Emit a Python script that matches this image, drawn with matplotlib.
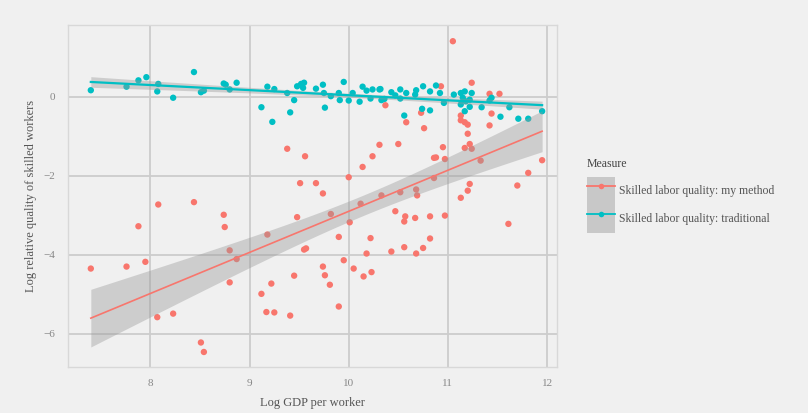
import numpy as np
import matplotlib
matplotlib.use("Agg")
import matplotlib.pyplot as plt
from matplotlib.lines import Line2D
from matplotlib.patches import Patch
from matplotlib.legend_handler import HandlerTuple

# ---- data ----
trad_x = [7.40, 7.76, 7.88, 7.96, 8.08, 8.07, 8.23, 8.44, 8.51, 8.54, 8.74,
          8.76, 8.80, 8.87, 9.12, 9.23, 9.18, 9.25, 9.38, 9.41, 9.45, 9.48,
          9.52, 9.55, 9.54, 9.67, 9.74, 9.75, 9.76, 9.82, 9.90, 9.91, 9.95,
          10.00, 10.04, 10.11, 10.14, 10.18, 10.22, 10.24, 10.31, 10.33,
          10.32, 10.36, 10.43, 10.47, 10.52, 10.52, 10.58, 10.56, 10.67,
          10.68, 10.75, 10.74, 10.82, 10.82, 10.88, 10.92, 10.96, 11.06,
          11.13, 11.15, 11.17, 11.18, 11.22, 11.24, 11.13, 11.17, 11.22,
          11.34, 11.44, 11.42, 11.53, 11.62, 11.71, 11.81, 11.95]
trad_y = [0.16, 0.25, 0.41, 0.49, 0.32, 0.13, -0.03, 0.62, 0.11, 0.15, 0.33,
          0.30, 0.18, 0.35, -0.27, -0.64, 0.25, 0.19, 0.09, -0.40, -0.09, 0.26,
          0.32, 0.35, 0.22, 0.20, 0.30, 0.09, -0.28, 0.01, 0.09, -0.09, 0.37,
          -0.10, 0.09, -0.13, 0.25, 0.15, -0.05, 0.18, 0.18, -0.09,
          0.19, -0.06, 0.11, 0.03, 0.18, -0.05, 0.09, -0.48, 0.05,
          0.16, 0.26, -0.31, -0.35, 0.13, 0.28, 0.09, -0.16, 0.05,
          0.09, -0.03, 0.13, -0.12, -0.08, 0.09, -0.20, -0.37, -0.26,
          -0.27, -0.03, -0.10, -0.51, -0.27, -0.56, -0.56, -0.37]

my_x = [9.38, 9.56, 9.51, 9.67, 9.74, 10.00, 10.14, 10.24, 10.31, 11.05,
        10.93, 11.24, 11.42, 11.52, 10.37, 10.58, 10.73, 10.76, 11.13, 11.13,
        11.17, 11.20, 11.20, 11.44, 11.42, 10.50, 10.95, 11.22, 11.17, 11.24,
        10.86, 10.88, 10.97, 11.33, 11.95, 11.81, 11.70, 11.22, 11.20, 10.68,
        10.69, 10.52, 10.33, 10.86, 11.13, 8.08, 8.44, 8.74, 8.75, 7.88,
        7.40, 7.76, 7.95, 8.07, 8.23, 8.51, 8.54, 8.80, 8.87, 8.80,
        9.18, 9.48, 9.55, 9.57, 9.45, 9.22, 9.12, 9.17, 9.25, 9.41,
        9.82, 10.01, 10.12, 9.90, 10.22, 10.18, 9.95, 10.05, 10.15, 10.23,
        9.74, 9.76, 9.81, 9.90, 10.47, 10.57, 10.56, 10.67, 10.82, 10.97,
        11.61, 10.82, 10.75, 10.68, 10.56, 10.43]
my_y = [-1.32, -1.51, -2.19, -2.19, -2.45, -2.04, -1.78, -1.51, -1.22, 1.40,
        0.26, 0.35, 0.07, 0.07, -0.22, -0.65, -0.41, -0.80, -0.48, -0.60,
        -0.65, -0.71, -0.94, -0.43, -0.73, -1.20, -1.28, -1.20, -1.30, -1.32,
        -1.55, -1.54, -1.58, -1.62, -1.61, -1.93, -2.25, -2.21, -2.38, -2.35,
        -2.50, -2.42, -2.50, -2.06, -2.56, -2.73, -2.67, -2.99, -3.30, -3.28,
        -4.35, -4.30, -4.18, -5.58, -5.49, -6.22, -6.46, -3.89, -4.11, -4.70,
        -3.49, -3.05, -3.87, -3.84, -4.53, -4.73, -4.99, -5.45, -5.46, -5.54,
        -2.97, -3.18, -2.71, -3.55, -3.58, -3.97, -4.14, -4.35, -4.55, -4.44,
        -4.30, -4.52, -4.76, -5.31, -2.90, -3.03, -3.16, -3.07, -3.03, -3.01,
        -3.22, -3.59, -3.83, -3.97, -3.81, -3.92]

series_names = ["Skilled labor quality: my method", "Skilled labor quality: traditional"]
x_ticks = [8, 9, 10, 11, 12]
y_ticks = [-6, -4, -2, 0]

RED = "#F8766D"
TEAL = "#00BFC4"
BG = "#f0f0f0"
GRID = "#cccccc"

plt.rcParams["font.family"] = ["Liberation Serif", "DejaVu Serif"]

fig = plt.figure(figsize=(8.08, 4.13), dpi=100, facecolor=BG)
ax = fig.add_axes([68 / 808, 46 / 413, (557 - 68) / 808, (367 - 25) / 413])
ax.set_facecolor(BG)


def lm_band(x, y, n_pts=80):
    x = np.asarray(x, float)
    y = np.asarray(y, float)
    b, a = np.polyfit(x, y, 1)
    xs = np.linspace(x.min(), x.max(), n_pts)
    yhat = a + b * xs
    resid = y - (a + b * x)
    n = len(x)
    s = np.sqrt(np.sum(resid ** 2) / (n - 2))
    sxx = np.sum((x - x.mean()) ** 2)
    se = s * np.sqrt(1.0 / n + (xs - x.mean()) ** 2 / sxx)
    t = 1.99
    return xs, yhat, yhat - t * se, yhat + t * se


ax.scatter(my_x, my_y, s=21, color=RED, edgecolors="none", zorder=3)
ax.scatter(trad_x, trad_y, s=21, color=TEAL, edgecolors="none", zorder=3)

for xs_, ys_, col, lw in [(my_x, my_y, RED, 1.2), (trad_x, trad_y, TEAL, 1.6)]:
    xs, yh, lo, hi = lm_band(xs_, ys_)
    ax.fill_between(xs, lo, hi, color="#999999", alpha=0.4, linewidth=0, zorder=4)
    ax.plot(xs, yh, color=col, lw=lw, zorder=5)

ax.set_xlim(7.17, 12.1)
ax.set_ylim(-6.84, 1.81)
ax.set_xticks(x_ticks)
ax.set_yticks(y_ticks)
ax.set_xticklabels([str(v) for v in x_ticks])
ax.set_yticklabels([str(v).replace("-", "\u2212") for v in y_ticks])
ax.grid(True, color=GRID, lw=1.3, zorder=0)
ax.set_axisbelow(True)
ax.tick_params(length=0, colors="#888888", labelsize=8, pad=9)
for sp in ax.spines.values():
    sp.set_color("#d8d8d8")
    sp.set_linewidth(1.0)

ax.set_xlabel("Log GDP per worker", fontsize=9, color="#555555", labelpad=6)
ax.set_ylabel("Log relative quality of skilled workers", fontsize=9,
              color="#555555", labelpad=5)

handles = [
    (Patch(facecolor="#c8c8c8", edgecolor="none"),
     Line2D([], [], color=RED, lw=1.3, marker="o", markersize=4, markeredgewidth=0)),
    (Patch(facecolor="#c8c8c8", edgecolor="none"),
     Line2D([], [], color=TEAL, lw=1.3, marker="o", markersize=4, markeredgewidth=0)),
]
leg = fig.legend(handles, series_names, loc="upper left",
                 bbox_to_anchor=(587 / 808, 1 - 158 / 413),
                 frameon=False, fontsize=8.5, title="Measure", title_fontsize=8.5,
                 handler_map={tuple: HandlerTuple(ndivide=1, pad=0)},
                 handlelength=2.35, handleheight=3.27, labelspacing=0.0,
                 handletextpad=0.4, borderaxespad=0, borderpad=0)
leg._legend_box.align = "left"
leg._legend_box.sep = 5
for t in leg.get_texts():
    t.set_color("#555555")
leg.get_title().set_color("#444444")

fig.savefig("out.png", dpi=100, facecolor=BG)
